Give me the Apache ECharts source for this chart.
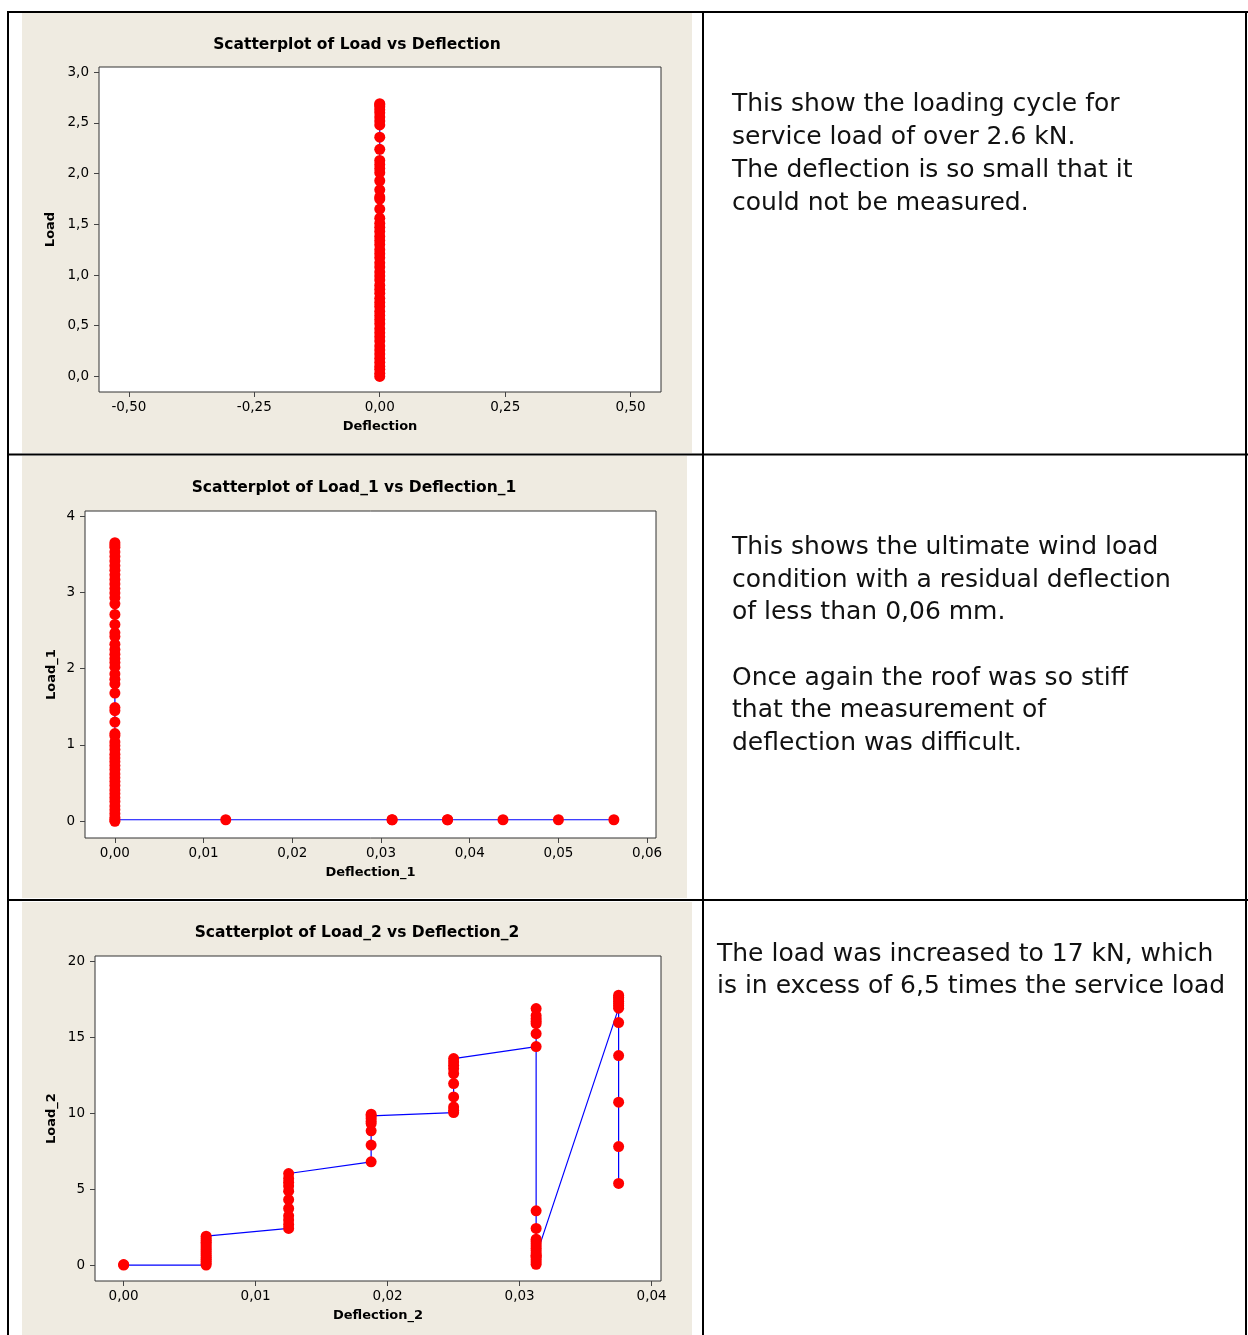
<!DOCTYPE html>
<html><head><meta charset="utf-8">
<script src="https://cdn.jsdelivr.net/npm/echarts@6/dist/echarts.min.js"></script>
<style>html,body{margin:0;padding:0;background:#fff}#c{width:1248px;height:1335px}</style>
</head><body><div id="c"></div>
<script>
// ---------- Chart 1: Load vs Deflection ----------
const deflection = [0,0,0,0,0,0,0,0,0,0,0,0,0,0,0,0,0,0,0,0,0,0,0,0,0,0,0,0,0,0,0,0,0,0,0,0,0,0,0,0,0,0,0,0,0,0,0,0,0,0,0,0,0,0,0,0,0];
const load = [0.00,0.03,0.07,0.10,0.14,0.18,0.22,0.26,0.30,0.35,0.39,0.43,0.47,0.52,0.56,0.60,0.64,0.69,0.73,0.77,0.82,0.86,0.90,0.95,0.99,1.03,1.08,1.12,1.17,1.21,1.25,1.30,1.34,1.38,1.43,1.47,1.51,1.56,1.65,1.75,1.77,1.84,1.93,2.01,2.05,2.09,2.13,2.24,2.36,2.48,2.52,2.56,2.60,2.63,2.66,2.69,2.68];
const xTicks1 = [-0.50,-0.25,0.00,0.25,0.50];
const yTicks1 = [0.0,0.5,1.0,1.5,2.0,2.5,3.0];

// ---------- Chart 2: Load_1 vs Deflection_1 ----------
const deflection_1 = [0,0,0,0,0,0,0,0,0,0,0,0,0,0,0,0,0,0,0,0,0,0,0,0,0,0,0,0,0,0,0,0,0,0,0,0,0,0,0,0,0,0,0,0,0,0,0,0,0,0,0,0,0,0,0,0,
  0.0125,0.03125,0.03125,0.0375,0.0375,0.04375,0.05,0.05625];
const load_1 = [0.00,0.05,0.10,0.15,0.20,0.26,0.31,0.36,0.41,0.47,0.52,0.57,0.62,0.68,0.73,0.78,0.83,0.88,0.94,0.99,1.04,1.12,1.15,1.30,1.45,1.49,1.68,1.80,1.86,1.93,2.02,2.08,2.13,2.19,2.25,2.32,2.42,2.47,2.58,2.71,2.85,2.93,2.99,3.05,3.11,3.17,3.23,3.29,3.35,3.41,3.47,3.53,3.59,3.62,3.65,0.02,
  0.02,0.02,0.02,0.02,0.02,0.02,0.02,0.02];
const xTicks2 = [0.00,0.01,0.02,0.03,0.04,0.05,0.06];
const yTicks2 = [0,1,2,3,4];

// ---------- Chart 3: Load_2 vs Deflection_2 ----------
const deflection_2 = [0,0,
  0.00625,0.00625,0.00625,0.00625,0.00625,0.00625,0.00625,0.00625,0.00625,0.00625,0.00625,0.00625,0.00625,0.00625,0.00625,0.00625,
  0.0125,0.0125,0.0125,0.0125,0.0125,0.0125,0.0125,0.0125,0.0125,0.0125,0.0125,
  0.01875,0.01875,0.01875,0.01875,0.01875,0.01875,0.01875,0.01875,
  0.025,0.025,0.025,0.025,0.025,0.025,0.025,0.025,0.025,0.025,
  0.03125,0.03125,0.03125,0.03125,0.03125,0.03125,0.03125,
  0.03125,0.03125,0.03125,0.03125,0.03125,0.03125,0.03125,0.03125,0.03125,0.03125,0.03125,0.03125,0.03125,0.03125,0.03125,
  0.0375,0.0375,0.0375,0.0375,0.0375,0.0375,0.0375,0.0375,0.0375,0.0375,0.0375,0.0375];
const load_2 = [0.00,0.03,
  0.00,0.12,0.25,0.38,0.50,0.62,0.75,0.88,1.00,1.12,1.25,1.38,1.50,1.62,1.75,1.90,
  2.41,2.67,2.96,3.24,3.72,4.30,4.86,5.20,5.44,5.70,6.02,
  6.79,7.89,8.83,9.31,9.46,9.64,9.81,9.92,
  10.03,10.19,10.40,11.06,11.94,12.60,12.92,13.14,13.36,13.58,
  14.37,15.22,15.88,16.04,16.20,16.40,16.87,
  3.57,2.41,1.70,1.55,1.40,1.25,1.10,0.95,0.80,0.65,0.50,0.35,0.20,0.05,0.60,
  16.90,17.05,17.20,17.35,17.50,17.62,17.75,15.95,13.78,10.71,7.79,5.37];
const xTicks3 = [0.00,0.01,0.02,0.03,0.04];
const yTicks3 = [0,5,10,15,20];

const titles = ['Scatterplot of Load vs Deflection','Scatterplot of Load_1 vs Deflection_1','Scatterplot of Load_2 vs Deflection_2'];
const xNames = ['Deflection','Deflection_1','Deflection_2'];
const yNames = ['Load','Load_1','Load_2'];
const notes = [
  'This show the loading cycle for\nservice load of over 2.6 kN.\nThe deflection is so small that it\ncould not be measured.',
  'This shows the ultimate wind load\ncondition with a residual deflection\nof less than 0,06 mm.\n\nOnce again the roof was so stiff\nthat the measurement of\ndeflection was difficult.',
  'The load was increased to 17 kN, which\nis in excess of 6,5 times the service load'
];

// ---------- build ----------
const F = "'DejaVu Sans', sans-serif";
const zip = (a, b) => a.map((v, i) => [v, b[i]]);
const fmt = (v, d) => (Math.abs(v) < 1e-12 ? 0 : v).toFixed(d).replace('.', ',');

function axis(gi, min, max, ticks, dec, name, gap, margin) {
  return {type:'value', gridIndex:gi, min, max, name, nameLocation:'middle', nameGap:gap,
    nameTextStyle:{fontFamily:F, fontWeight:'bold', fontSize:13, color:'#000'},
    axisLine:{show:false, onZero:false}, splitLine:{show:false},
    axisTick:{show:true, inside:false, length:5, customValues:ticks, lineStyle:{color:'#444', width:1}},
    axisLabel:{customValues:ticks, formatter:v => fmt(v, dec), fontFamily:F, fontSize:13.5, color:'#000', margin}};
}
function ser(i, x, y) {
  return {type:'line', xAxisIndex:i, yAxisIndex:i, data:zip(x, y), symbol:'circle', symbolSize:11,
    showAllSymbol:true, showSymbol:true, animation:false, silent:true,
    itemStyle:{color:'#ff0000', borderWidth:0}, lineStyle:{color:'#0000ff', width:1.2}};
}

const beige = '#EFEBE1';
const line = (x1, y1, x2, y2) => ({type:'line', shape:{x1, y1, x2, y2}, style:{stroke:'#000', lineWidth:2}, z:10});
const graphic = [
  {type:'rect', shape:{x:22, y:13, width:670, height:440}, style:{fill:beige}, z:-10},
  {type:'rect', shape:{x:22, y:456, width:665, height:442}, style:{fill:beige}, z:-10},
  {type:'rect', shape:{x:22, y:902, width:670, height:433}, style:{fill:beige}, z:-10},
  line(7, 12, 1248, 12), line(8, 11, 8, 1335), line(703, 11, 703, 1335), line(1246, 11, 1246, 1335),
  line(7, 454.5, 1248, 454.5), line(7, 900, 1248, 900),
  {type:'text', style:{text:titles[0], x:357, y:44.5, align:'center', verticalAlign:'middle', font:"bold 15.5px 'DejaVu Sans'", fill:'#000'}},
  {type:'text', style:{text:titles[1], x:354, y:488, align:'center', verticalAlign:'middle', font:"bold 15.5px 'DejaVu Sans'", fill:'#000'}},
  {type:'text', style:{text:titles[2], x:357, y:933, align:'center', verticalAlign:'middle', font:"bold 15.5px 'DejaVu Sans'", fill:'#000'}},
  {type:'text', style:{text:notes[0], x:732, y:88, font:"25px 'DejaVu Sans'", lineHeight:33, fill:'#111', verticalAlign:'top'}},
  {type:'text', style:{text:notes[1], x:732, y:531, font:"25px 'DejaVu Sans'", lineHeight:32.67, fill:'#111', verticalAlign:'top'}},
  {type:'text', style:{text:notes[2], x:717, y:938, font:"25px 'DejaVu Sans'", lineHeight:32.5, fill:'#111', verticalAlign:'top'}}
];

const gridStyle = {show:true, backgroundColor:'#fff', borderColor:'#333', borderWidth:1, containLabel:false};
const option = {
  backgroundColor:'#fff',
  animation:false,
  graphic,
  grid:[
    Object.assign({left:99, top:67, width:562, height:325}, gridStyle),
    Object.assign({left:85, top:511, width:571, height:327}, gridStyle),
    Object.assign({left:95, top:956, width:566, height:325}, gridStyle)
  ],
  xAxis:[
    axis(0, -0.5595, 0.5605, xTicks1, 2, xNames[0], 28, 8),
    axis(1, -0.00337, 0.0610, xTicks2, 2, xNames[1], 28, 8),
    axis(2, -0.00217, 0.04071, xTicks3, 2, xNames[2], 28, 8)
  ],
  yAxis:[
    axis(0, -0.154, 3.052, yTicks1, 1, yNames[0], 42, 10),
    axis(1, -0.219, 4.066, yTicks2, 0, yNames[1], 27, 10),
    axis(2, -1.05, 20.33, yTicks3, 0, yNames[2], 37, 10)
  ],
  series:[ser(0, deflection, load), ser(1, deflection_1, load_1), ser(2, deflection_2, load_2)]
};
const chart = echarts.init(document.getElementById('c'), null, {renderer:'canvas'});
chart.setOption(option);
</script>
</body></html>
